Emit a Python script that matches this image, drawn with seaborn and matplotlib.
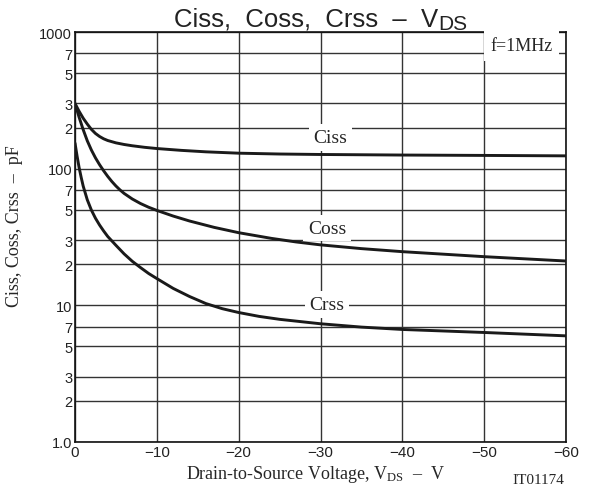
import matplotlib
matplotlib.use("Agg")
import matplotlib.pyplot as plt
import matplotlib.ticker as mticker
import numpy as np
import pandas as pd
import seaborn as sns

# ---- data ----
vds_ciss = [0, -0.5, -1, -1.5, -2, -2.5, -3, -3.5, -4, -5, -6, -7, -8.5, -10,
            -13, -16, -20, -25, -30, -40, -50, -60]
ciss = [300, 263, 234, 212, 194, 181, 172, 165.4, 160.7, 154.5, 150.3, 147.1, 143.3, 140.4,
        136.1, 132.8, 129.8, 128, 127, 125.8, 125, 124.1]

vds_coss = [0, -0.5, -1, -1.5, -2, -2.5, -3, -3.5, -4, -4.5, -5, -5.5, -6, -7, -8, -9, -10,
            -12, -14, -17, -20, -24, -27, -30, -35, -40, -50, -60]
coss = [300, 238, 193, 160, 137, 120, 107, 96.5, 87.8, 80.6, 74.7, 69.9, 65.9, 60, 55.6, 52.2, 49.5,
        45, 41.4, 37.2, 34, 30.9, 29.1, 27.7, 26, 24.7, 22.7, 21.1]

vds_crss = [0, -0.25, -0.5, -0.75, -1, -1.5, -2, -2.5, -3, -3.5, -4, -5, -6, -7, -8, -9, -10,
            -12, -14, -16, -18, -20, -22.5, -25, -30, -35, -40, -50, -60]
crss = [154, 124, 102, 86.6, 74.6, 59.2, 49.8, 43.4, 38.7, 35, 31.9, 27.5, 23.8, 21, 18.9, 17.1, 15.7,
        13.3, 11.6, 10.3, 9.45, 8.86, 8.3, 7.9, 7.33, 6.93, 6.66, 6.33, 5.98]

series_names = ["Ciss", "Coss", "Crss"]
x_ticks = [0, -10, -20, -30, -40, -50, -60]
x_ticklabels = ["0", "\u221210", "\u221220", "\u221230", "\u221240", "\u221250", "\u221260"]
y_ticks = [1, 2, 3, 5, 7, 10, 20, 30, 50, 70, 100, 200, 300, 500, 700, 1000]
y_ticklabels = ["1.0", "2", "3", "5", "7", "10", "2", "3", "5", "7", "100", "2", "3", "5", "7", "1000"]

df = pd.concat([
    pd.DataFrame({"vds": vds_ciss, "c": ciss, "series": "Ciss"}),
    pd.DataFrame({"vds": vds_coss, "c": coss, "series": "Coss"}),
    pd.DataFrame({"vds": vds_crss, "c": crss, "series": "Crss"}),
])

sns.set_style("white")
plt.rcParams["mathtext.fontset"] = "custom"
plt.rcParams["mathtext.rm"] = "Liberation Serif"
plt.rcParams["mathtext.sf"] = "Liberation Sans"
plt.rcParams["mathtext.it"] = "Liberation Serif:italic"
plt.rcParams["font.family"] = ["Liberation Sans", "DejaVu Sans"]

fig = plt.figure(figsize=(5.94, 4.89), dpi=100)
ax = fig.add_axes([75 / 594, 1 - 443 / 489, (566 - 75) / 594, (443 - 33) / 489])

sns.lineplot(data=df, x="vds", y="c", hue="series", hue_order=series_names,
             palette={n: "#1a1a1a" for n in series_names}, linewidth=2.1,
             legend=False, ax=ax, zorder=4)
for ln in ax.get_lines():
    ln.set_solid_joinstyle("round")
    ln.set_solid_capstyle("round")

ax.set_yscale("log")
ax.set_xlim(0, -60)
ax.set_ylim(1, 1000)
ax.set_xticks(x_ticks)
ax.set_xticklabels(x_ticklabels, fontsize=11)
ax.set_yticks(y_ticks)
ax.set_yticklabels(y_ticklabels, fontsize=10.5)
ax.yaxis.set_minor_locator(mticker.NullLocator())
ax.tick_params(axis="both", length=0, pad=2, colors="#222222")
ax.grid(True, which="major", color="#333333", linewidth=1.0)
for s in ax.spines.values():
    s.set_color("#111111")
    s.set_linewidth(1.2)
    s.set_visible(True)

serif = "Liberation Serif"
ax.set_xlabel("Drain-to-Source Voltage, V$_{\\mathrm{DS}}$  \u2013  V", fontsize=13, family=serif)
ax.set_ylabel("Ciss, Coss, Crss  \u2013  pF", fontsize=13, family=serif)
ax.xaxis.set_label_coords(0.489, -0.052)
ax.yaxis.set_label_coords(-0.105, 0.53)

# title: main part plus a larger-than-mathtext "DS" subscript
t_main = fig.text(438 / 594, 1 - 26 / 489, "Ciss,  Coss,  Crss  \u2013  V", ha="right", va="baseline",
                  fontsize=18.5, color="#222222")
ax.annotate("DS", xy=(1, 0), xycoords=t_main, xytext=(0.5, 1.0), textcoords="offset points",
            ha="left", va="baseline", fontsize=15, color="#222222", annotation_clip=False)

box = dict(boxstyle="square,pad=0.25", fc="white", ec="none")
ax.text(-31.2, 170, "Ciss", fontsize=14, family=serif, ha="center", va="center", bbox=box, zorder=3)
ax.text(-30.8, 36.8, "Coss", fontsize=14, family=serif, ha="center", va="center", bbox=box, zorder=3)
ax.text(-30.8, 10.2, "Crss", fontsize=14, family=serif, ha="center", va="center", bbox=box, zorder=3)
ax.text(0.91, 0.966, "f=1MHz", transform=ax.transAxes, fontsize=13, family=serif,
        ha="center", va="center", bbox=dict(boxstyle="square,pad=0.35", fc="white", ec="none"), zorder=3)

fig.text(538 / 594, 1 - 481 / 489, "IT01174", fontsize=11, family=serif, ha="center", va="center")

fig.savefig("out.png", dpi=100)
